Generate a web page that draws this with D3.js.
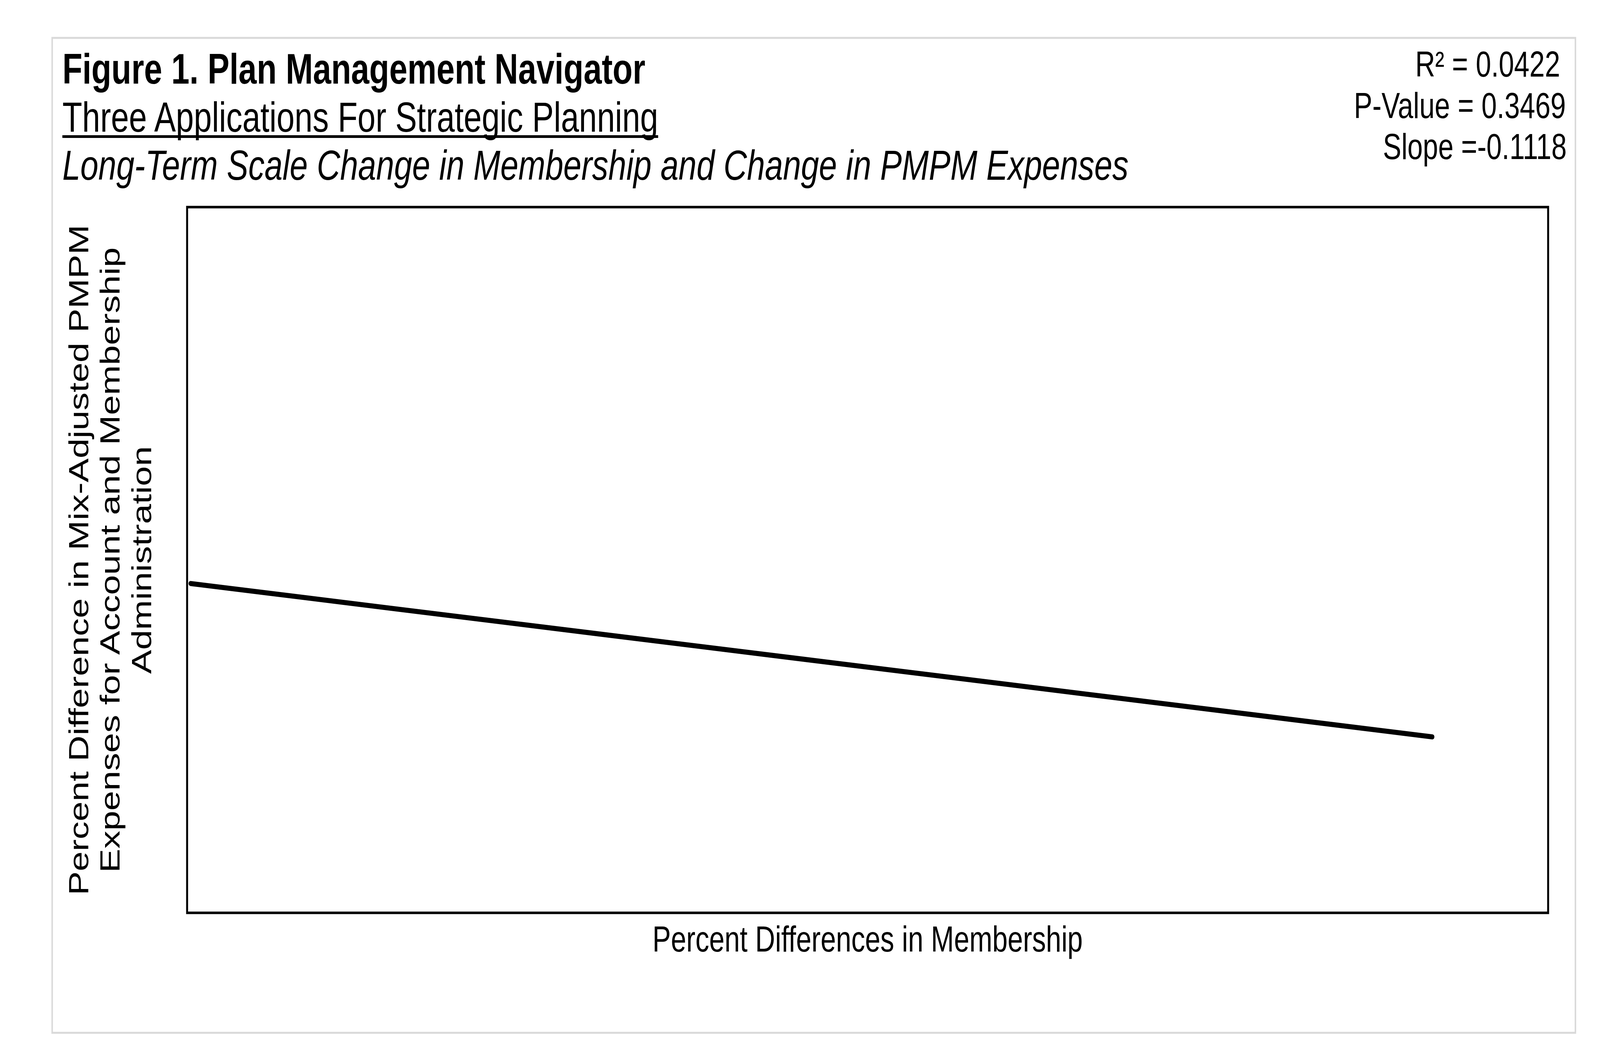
<!DOCTYPE html>
<html>
<head>
<meta charset="utf-8">
<script src="https://cdn.jsdelivr.net/npm/d3@7"></script>
<style>
  html, body { margin: 0; padding: 0; background: #fff; overflow: hidden; }
  svg { display: block; width: 100vw; height: 100vh; }
  text { font-family: "Liberation Sans", Arial, sans-serif; fill: #000; }
</style>
</head>
<body>
<div id="vis1"></div>
<script>
// trend line (fitted)
const trend_x = [-19.8, 53.2];
const trend_y = [-7.5, -15.65];

const x_domain = [-20, 60];
const y_domain = [-25, 12.5];

const title_lines = [
  "Figure 1. Plan Management Navigator",
  "Three Applications For Strategic Planning",
  "Long-Term Scale Change in Membership and Change in PMPM Expenses"
];
const stat_lines = ["R\u00b2 = 0.0422", "P-Value = 0.3469", "Slope =-0.1118"];
const y_label_lines = [
  "Percent Difference in Mix-Adjusted PMPM",
  "Expenses for Account and Membership",
  "Administration"
];
const x_label = "Percent Differences in Membership";

// drawing space; the svg is stretched over the whole window with a viewBox
const frame_width = 5336;
const frame_height = 2687;
const plot = {left: 624, right: 5163, top: 530, bottom: 2336};

const x_scale = d3.scaleLinear()
    .domain(x_domain)
    .range([plot.left, plot.right]);

const y_scale = d3.scaleLinear()
    .domain(y_domain)
    .range([plot.bottom, plot.top]);

const frame1 = d3.select("#vis1")
  .append("svg")
    .attr("viewBox", "0 0 " + frame_width + " " + frame_height)
    .attr("preserveAspectRatio", "none");

frame1.append("rect")
    .attr("width", frame_width)
    .attr("height", frame_height)
    .attr("fill", "#fff");

// outer card border
frame1.append("rect")
    .attr("x", 174)
    .attr("y", 97)
    .attr("width", 5254 - 174)
    .attr("height", 2643 - 97)
    .attr("fill", "none")
    .attr("stroke", "#d9d9d9")
    .attr("stroke-width", 5);

// titles
frame1.append("text")
    .attr("x", 208).attr("y", 214)
    .attr("font-size", 109)
    .attr("font-weight", "bold")
    .text(title_lines[0]);

const sub = frame1.append("text")
    .attr("x", 208).attr("y", 337)
    .attr("font-size", 108)
    .text(title_lines[1]);
const sub_w = sub.node().getComputedTextLength();
frame1.append("rect")
    .attr("x", 208).attr("y", 346)
    .attr("width", sub_w).attr("height", 7)
    .attr("fill", "#000");

frame1.append("text")
    .attr("x", 208).attr("y", 460)
    .attr("font-size", 108)
    .attr("font-style", "italic")
    .text(title_lines[2]);

// stats box top right
const stat_right = [5203, 5222, 5225];
const stat_base = [196, 302, 407];
frame1.selectAll(".stat")
    .data(stat_lines)
    .enter()
    .append("text")
      .attr("class", "stat")
      .attr("x", (d, i) => stat_right[i])
      .attr("y", (d, i) => stat_base[i])
      .attr("text-anchor", "end")
      .attr("font-size", 92)
      .text((d) => d);

// plot frame
frame1.append("rect")
    .attr("x", plot.left)
    .attr("y", plot.top)
    .attr("width", plot.right - plot.left)
    .attr("height", plot.bottom - plot.top)
    .attr("fill", "none")
    .attr("stroke", "#000")
    .attr("stroke-width", 6.5);

// trend line
const line = d3.line()
    .x((d) => x_scale(d[0]))
    .y((d) => y_scale(d[1]));

frame1.append("path")
    .datum(d3.zip(trend_x, trend_y))
    .attr("d", line)
    .attr("fill", "none")
    .attr("stroke", "#000")
    .attr("stroke-width", 13)
    .attr("stroke-linecap", "round");

// axis labels
const mid_y = (plot.top + plot.bottom) / 2;
const y_base = [295, 399, 504];
frame1.selectAll(".ylab")
    .data(y_label_lines)
    .enter()
    .append("text")
      .attr("class", "ylab")
      .attr("transform", (d, i) => "translate(" + y_base[i] + "," + mid_y + ") rotate(-90)")
      .attr("text-anchor", "middle")
      .attr("font-size", 92)
      .text((d) => d);

frame1.append("text")
    .attr("x", (plot.left + plot.right) / 2)
    .attr("y", 2435)
    .attr("text-anchor", "middle")
    .attr("font-size", 92)
    .text(x_label);
</script>
</body>
</html>
